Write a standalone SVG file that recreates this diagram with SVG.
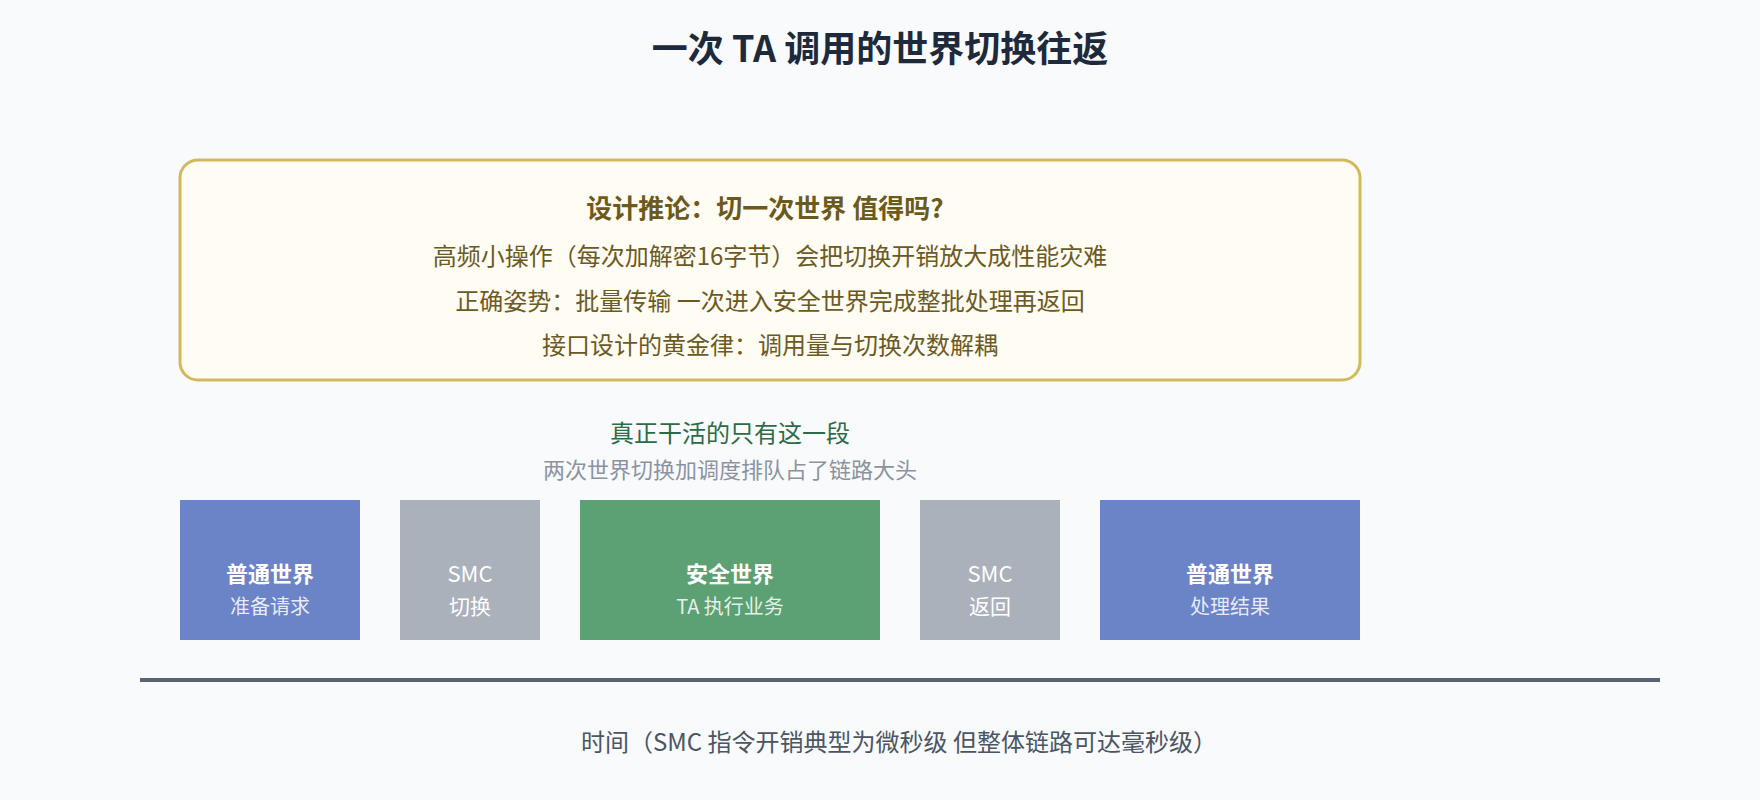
<svg xmlns="http://www.w3.org/2000/svg" width="1760" height="800" viewBox="0 0 1760 800">
<style>
text{font-family:"Noto Sans CJK SC","Noto Sans",sans-serif;text-anchor:middle}
.title{font-size:36px;font-weight:700;fill:#1e293b}
.nt{font-size:26px;font-weight:700;fill:#6b5a1c}
.nl{font-size:24px;fill:#6b5a24}
.bt{font-size:22px;font-weight:700;fill:#ffffff}
.bs{font-size:20px;fill:#ffffff;fill-opacity:0.85}
.smc{font-size:22px;fill:#ffffff}
.smcs{font-size:21px;fill:#ffffff}
.blue{fill:#6b84c8}
.gray{fill:#abb1bb}
.green{fill:#5ca174}
</style>
<rect width="1760" height="800" fill="#f8fafc"/>
<text class="title" x="880" y="62">一次 TA 调用的世界切换往返</text>
<g id="note">
<rect x="180" y="160" width="1180" height="220" rx="18" fill="#fffcf3" stroke="#d1b95c" stroke-width="3"/>
<text class="nt" x="765" y="218">设计推论：切一次世界 值得吗?</text>
<text class="nl" x="770" y="265">高频小操作（每次加解密16字节）会把切换开销放大成性能灾难</text>
<text class="nl" x="770" y="310">正确姿势：批量传输 一次进入安全世界完成整批处理再返回</text>
<text class="nl" x="770" y="354">接口设计的黄金律：调用量与切换次数解耦</text>
</g>
<g id="annotation">
<text x="730" y="442" font-size="24" fill="#2e6b47">真正干活的只有这一段</text>
<text x="730" y="478" font-size="22" fill="#8b93a0">两次世界切换加调度排队占了链路大头</text>
</g>
<g id="n1"><rect class="blue" x="180" y="500" width="180" height="140"/>
<text class="bt" x="270" y="582">普通世界</text><text class="bs" x="270" y="614">准备请求</text></g>
<g id="n2"><rect class="gray" x="400" y="500" width="140" height="140"/>
<text class="smc" x="470" y="582">SMC</text><text class="smcs" x="470" y="614">切换</text></g>
<g id="n3"><rect class="green" x="580" y="500" width="300" height="140"/>
<text class="bt" x="730" y="582">安全世界</text><text class="bs" x="730" y="614">TA 执行业务</text></g>
<g id="n4"><rect class="gray" x="920" y="500" width="140" height="140"/>
<text class="smc" x="990" y="582">SMC</text><text class="smcs" x="990" y="614">返回</text></g>
<g id="n5"><rect class="blue" x="1100" y="500" width="260" height="140"/>
<text class="bt" x="1230" y="582">普通世界</text><text class="bs" x="1230" y="614">处理结果</text></g>
<g id="connectors">
<line x1="140" y1="680" x2="1660" y2="680" stroke="#5c6473" stroke-width="4"/>
</g>
<text x="899" y="751" font-size="24" fill="#4b5563">时间（SMC 指令开销典型为微秒级 但整体链路可达毫秒级）</text>
</svg>
